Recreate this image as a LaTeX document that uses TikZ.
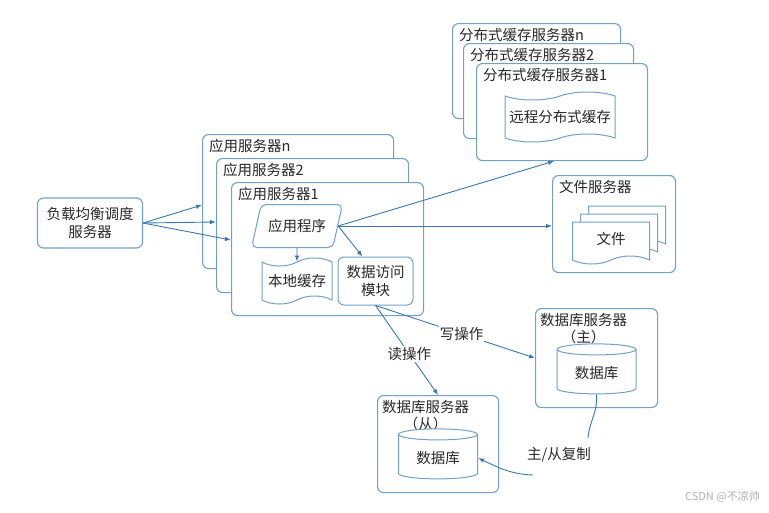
\documentclass[tikz,border=0pt]{standalone}
\usepackage{fontspec}
\setmainfont{Noto Sans CJK SC}
\usepackage{tikz}
\usetikzlibrary{shapes.geometric}
\usetikzlibrary{shapes.symbols}
\usetikzlibrary{arrows.meta}
\usetikzlibrary{positioning}

\definecolor{boxblue}{RGB}{115,160,200}
\definecolor{arrblue}{RGB}{55,120,185}
\definecolor{txtgray}{RGB}{40,40,40}

\begin{document}
\begin{tikzpicture}[x=1pt,y=-1pt,
    font=\fontsize{14.5}{17.5}\selectfont, text=txtgray,
    box/.style={draw=boxblue, line width=1.1pt, rounded corners=6pt, fill=white},
    server/.style={box, anchor=north west, inner sep=0pt},
    title/.style={anchor=north west, inner sep=0pt, xshift=7pt, yshift=-5pt},
    doc/.style={tape, tape bend top=none, tape bend height=8pt, draw=boxblue,
                line width=1pt, fill=white, minimum width=77pt, minimum height=42pt},
    wave/.style={tape, tape bend height=8pt, draw=boxblue, line width=1pt, fill=white},
    db/.style={cylinder, shape border rotate=90, aspect=0.22, draw=boxblue,
               line width=1pt, fill=white, minimum width=79pt, minimum height=50pt},
    arr/.style={draw=arrblue, line width=0.9pt, -{Latex[length=6pt,width=4.5pt]}},
    line/.style={draw=arrblue, line width=0.9pt}]
  \useasboundingbox (0,0) rectangle (769,512);

  % load balancer
  \node[box, minimum width=105pt, minimum height=50pt, align=center, inner sep=2pt]
    (lb) at (90,223) {负载均衡调度\\服务器};

  % application servers
  \node[server, minimum width=191pt, minimum height=134pt,
        label={[title]north west:应用服务器n}] (appn) at (202,134) {};
  \node[server, minimum width=192pt, minimum height=134pt,
        label={[title]north west:应用服务器2}] (app2) at (216,158) {};
  \node[server, minimum width=192pt, minimum height=133pt,
        label={[title]north west:应用服务器1}] (app1) at (231,182) {};

  \node[trapezium, trapezium left angle=67, trapezium right angle=113,
        trapezium stretches=true, draw=boxblue, line width=1pt, rounded corners=5pt,
        minimum width=91pt, minimum height=43pt] (prog) at (297,226) {应用程序};
  \node[wave, minimum width=70pt, minimum height=46pt] (local) at (297,281) {本地缓存};
  \node[box, line width=1pt, minimum width=75pt, minimum height=48pt, align=center,
        inner sep=1pt] (dam) at (375.5,281) {数据访问\\模块};

  % distributed cache servers
  \node[server, minimum width=168pt, minimum height=95pt,
        label={[title]north west:分布式缓存服务器n}] (cachen) at (452,23) {};
  \node[server, minimum width=170pt, minimum height=95pt,
        label={[title]north west:分布式缓存服务器2}] (cache2) at (463,43) {};
  \node[server, minimum width=171pt, minimum height=97pt,
        label={[title]north west:分布式缓存服务器1}] (cache1) at (476,63) {};
  \node[wave, minimum width=110pt, minimum height=50pt] (remote) at (560,117) {远程分布式缓存};

  % file server
  \node[server, minimum width=123pt, minimum height=97pt,
        label={[title]north west:文件服务器}] (files) at (552,175) {};
  \node[doc] (file3) at (627,223) {};
  \node[doc] (file2) at (619,231) {};
  \node[doc] (file1) at (611,239) {文件};

  % database servers
  \node[server, minimum width=122pt, minimum height=99pt] (master) at (535,308) {};
  \node[anchor=north west, align=center, inner sep=0pt] (mtitle)
    at ([xshift=5pt,yshift=-5pt]master.north west) {数据库服务器\\（主）};
  \node[db] (mdb) at (596.5,373) {数据库};

  \node[server, minimum width=121pt, minimum height=97pt] (slave) at (377,395) {};
  \node[anchor=north west, align=center, inner sep=0pt] (stitle)
    at ([xshift=5pt,yshift=-5pt]slave.north west) {数据库服务器\\（从）};
  \node[db] (sdb) at (438,458) {数据库};

  % connectors
  \draw[arr] (lb.east) -- ([yshift=-71pt]appn.north west);
  \draw[arr] (lb.east) -- ([yshift=-64pt]app2.north west);
  \draw[arr] (lb.east) -- ([yshift=-58pt]app1.north west);

  \draw[arr] (prog.east) -- ([xshift=-8pt]cache1.south);
  \draw[arr] (prog.east) -- (prog.east -| files.west);
  \draw[arr] (prog.south) -- (local.north);
  \draw[arr] (prog.east) -- ([xshift=-13pt]dam.north);

  \draw[arr] (dam.south) -- node[pos=0.54, fill=white, inner sep=1pt] (lwrite) {写操作} (master.west);
  \draw[arr] (dam.south) -- node[pos=0.54, fill=white, inner sep=1pt] (lread) {读操作} (slave.north);

  \node[inner sep=1pt] (repl) at (559,455) {主/从复制};
  \coordinate (rtop) at (588,438);
  \coordinate (rbot) at (533,475);
  \draw[line] (mdb.south) to[out=-85,in=85] (rtop);
  \draw[arr] (rbot) to[out=178,in=-25] (sdb.east);

  % watermark
  \node[anchor=east, font=\fontsize{11}{13}\selectfont, text=black!30, inner sep=0pt]
    (mark) at (760,497) {CSDN @不凉帅};
\end{tikzpicture}
\end{document}
